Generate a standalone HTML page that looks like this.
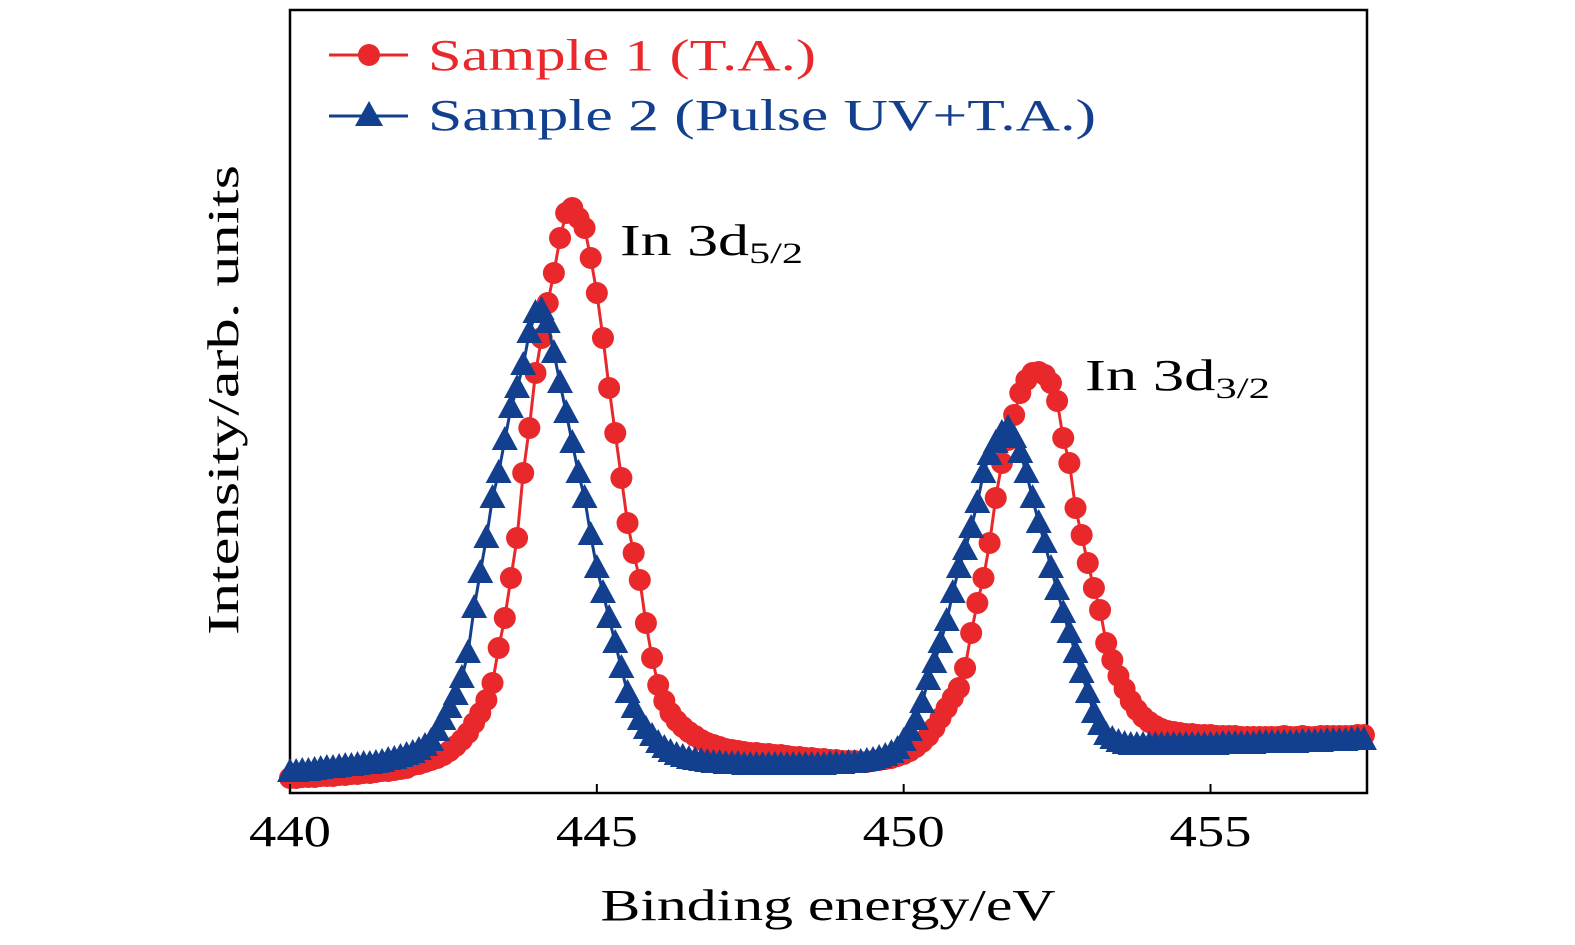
<!DOCTYPE html>
<html><head><meta charset="utf-8">
<style>
html,body{margin:0;padding:0;background:#fff;}
svg{display:block;font-family:"Liberation Serif",serif;}
</style></head>
<body>
<svg id="chart" width="1575" height="945" viewBox="0 0 1575 945">
  <rect x="290" y="10" width="1077" height="783" fill="none" stroke="#000" stroke-width="2.5"/>
  <g id="marks"></g>
  <g id="xticks"></g>
  <text x="828" y="920" font-size="44" text-anchor="middle" textLength="455" lengthAdjust="spacingAndGlyphs">Binding energy/eV</text>
  <text transform="translate(238,400) rotate(-90)" font-size="44" text-anchor="middle" textLength="470" lengthAdjust="spacingAndGlyphs">Intensity/arb. units</text>
  <g>
    <g>
      <line x1="329" y1="55" x2="408" y2="55" stroke="#e8282a" stroke-width="3"/>
      <circle cx="369" cy="55" r="11" fill="#e8282a"/>
      <text x="428" y="70" font-size="44" fill="#e8282a" textLength="388" lengthAdjust="spacingAndGlyphs">Sample 1 (T.A.)</text>
    </g>
    <g>
      <line x1="329" y1="116" x2="408" y2="116" stroke="#133f8f" stroke-width="3"/>
      <polygon points="369,101 355,126 383,126" fill="#133f8f"/>
      <text x="428" y="130" font-size="44" fill="#133f8f" textLength="668" lengthAdjust="spacingAndGlyphs">Sample 2 (Pulse UV+T.A.)</text>
    </g>
  </g>
  <text x="620" y="255" font-size="44" textLength="183" lengthAdjust="spacingAndGlyphs">In 3d<tspan font-size="30" dy="8">5/2</tspan></text>
  <text x="1085" y="390" font-size="44" textLength="185" lengthAdjust="spacingAndGlyphs">In 3d<tspan font-size="30" dy="8">3/2</tspan></text>
</svg>
<script>
const energyStart = 440.0;
const energyStep = 0.1;
const xTicks = [440, 445, 450, 455];
const sample1 = [
15,15,16,16,16,17,17,17,18,18,
19,19,20,20,21,22,22,23,24,25,
28,29,31,33,35,38,42,47,53,60,
70,80,93,110,145,175,215,255,320,365,
420,455,490,520,555,580,585,575,565,535,
500,455,405,360,315,270,240,213,170,135,
108,92,80,72,66,61,57,53,50,48,
46,44,43,42,41,40,40,39,39,38,
38,37,36,36,35,35,34,34,33,33,
32,32,32,31,31,32,33,34,35,37,
39,42,46,51,57,65,75,85,95,105,
125,160,190,215,250,295,330,353,378,400,
413,420,421,418,410,392,355,330,285,258,
230,205,183,150,133,117,104,92,83,76,
71,67,64,62,61,60,59,59,58,58,
58,57,57,57,57,56,56,56,56,56,
56,56,57,56,56,57,56,56,57,57,
57,57,57,57,58,58];
const sample2 = [
21,21,22,22,23,24,25,25,26,27,
27,28,29,29,30,31,33,34,36,38,
40,43,47,52,62,73,85,98,115,140,
185,220,255,295,320,353,385,405,428,460,
480,483,470,440,410,380,350,320,295,258,
225,200,175,150,125,100,85,73,64,57,
50,45,41,38,36,34,33,32,31,30,
30,29,29,29,28,28,28,28,28,28,
28,28,28,28,28,28,28,28,29,29,
29,30,30,31,32,33,35,37,40,44,
52,62,73,90,113,130,150,172,200,225,
243,265,290,320,338,350,360,365,355,340,
320,295,270,250,225,203,180,160,140,120,
100,80,68,58,54,51,49,48,48,48,
48,48,48,48,48,48,48,48,48,48,
48,48,49,49,49,49,49,49,50,50,
50,50,50,50,50,51,51,51,51,52,
52,52,52,53,53,53];

const NS = "http://www.w3.org/2000/svg";
const X0 = 290, X1 = 1367, Y0 = 793, Y1 = 10;
const xMin = 440, xMax = 457.55, yMin = 0, yMax = 783;
function xs(e){ return X0 + (e - xMin) / (xMax - xMin) * (X1 - X0); }
function ys(v){ return Y0 - (v - yMin) / (yMax - yMin) * (Y0 - Y1); }

const marks = document.getElementById('marks');
function drawSeries(vals, color, kind, name){
  const g = document.createElementNS(NS, 'g');
  
  
  const pts = vals.map((v,i)=>xs(energyStart + i*energyStep).toFixed(1)+','+ys(v).toFixed(1)).join(' ');
  const pl = document.createElementNS(NS, 'polyline');
  pl.setAttribute('points', pts);
  pl.setAttribute('fill', 'none');
  pl.setAttribute('stroke', color);
  pl.setAttribute('stroke-width', '3');
  
  
  g.appendChild(pl);
  vals.forEach((v,i)=>{
    const cx = xs(energyStart + i*energyStep), cy = ys(v);
    let m;
    if(kind === 'circle'){
      m = document.createElementNS(NS, 'circle');
      m.setAttribute('cx', cx); m.setAttribute('cy', cy); m.setAttribute('r', 11);
    } else {
      m = document.createElementNS(NS, 'polygon');
      m.setAttribute('points', `${cx},${cy-14} ${cx-13},${cy+10} ${cx+13},${cy+10}`);
    }
    m.setAttribute('fill', color);
    
    
    g.appendChild(m);
  });
  marks.appendChild(g);
}
drawSeries(sample1, '#e8282a', 'circle', 'sample-1-series');
drawSeries(sample2, '#133f8f', 'triangle', 'sample-2-series');

const xt = document.getElementById('xticks');
xTicks.forEach(t=>{
  const x = xs(t);
  const l = document.createElementNS(NS, 'line');
  l.setAttribute('x1', x); l.setAttribute('x2', x);
  l.setAttribute('y1', Y0); l.setAttribute('y2', Y0 - 9);
  l.setAttribute('stroke', '#000'); l.setAttribute('stroke-width', '2');
  
  
  xt.appendChild(l);
  const tx = document.createElementNS(NS, 'text');
  tx.setAttribute('x', x); tx.setAttribute('y', 846);
  tx.setAttribute('font-size', '44');
  tx.setAttribute('text-anchor', 'middle');
  tx.setAttribute('textLength', '82');
  tx.setAttribute('lengthAdjust', 'spacingAndGlyphs');
  tx.textContent = t;
  
  
  xt.appendChild(tx);
});
</script>
</body></html>
